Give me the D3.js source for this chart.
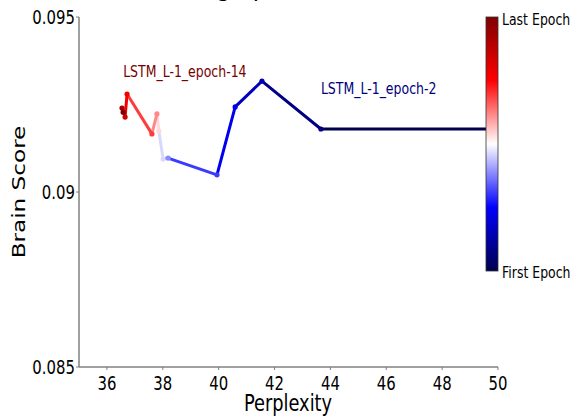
<!DOCTYPE html>
<html><head><meta charset="utf-8">
<script src="https://cdn.jsdelivr.net/npm/d3@7"></script>
<style>body{margin:0;background:#fff}svg{display:block}</style>
</head><body>
<script>
// Data (epoch 1 .. 14)
const epochs = [1,2,3,4,5,6,7,8,9,10,11,12,13,14];
const perplexity = [55.0,43.66,41.55,40.59,39.94,38.19,38.01,37.86,37.79,37.61,36.72,36.65,36.54,36.58];
const brainScore = [0.0918,0.0918,0.09317,0.09243,0.09049,0.09097,0.09094,0.09174,0.09223,0.09166,0.0928,0.09214,0.0924,0.09228];
const xTicks = [36,38,40,42,44,46,48,50];
const yTicks = [0.085,0.09,0.095];
const yTickLabels = ["0.085","0.09","0.095"];
const annotations = [{i:1,text:"LSTM_L-1_epoch-2"},{i:13,text:"LSTM_L-1_epoch-14"}];

const W=570,H=417, SY=1.3, FONT="DejaVu Sans";
const svg=d3.select("body").append("svg").attr("width",W).attr("height",H);
const L=79,R=498,T=17,B=367;
const x=d3.scaleLinear().domain([35,50]).range([L,R]);
const y=d3.scaleLinear().domain([0.085,0.095]).range([B,T]);

// seismic colormap
const seismic=d3.scaleLinear().domain([0,0.25,0.5,0.75,1])
  .range(["rgb(0,0,77)","rgb(0,0,255)","rgb(255,255,255)","rgb(255,0,0)","rgb(128,0,0)"]);
const col=d3.scaleLinear().domain([epochs[0],epochs[epochs.length-1]]).range([0,1]);
const cOf=i=>seismic(col(epochs[i]));

function txt(g,xp,yp,s,size,opts={}){
  const t=g.append("text").attr("transform",`translate(${xp},${yp}) scale(1,${SY})${opts.rot?" rotate(-90)":""}`)
    .attr("font-family",FONT).attr("font-size",size).attr("fill",opts.fill||"#000")
    .attr("text-anchor",opts.anchor||"start").text(s);
  if(opts.db) t.attr("dominant-baseline",opts.db);
  return t;
}

// title (mostly cut off at the top edge, as in the reference)
txt(svg,407,-5,"Brain Score over training epochs (LSTM)",23,{anchor:"end"});

// clip
svg.append("defs").append("clipPath").attr("id","clip").append("rect")
  .attr("x",L).attr("y",T-5).attr("width",R-L).attr("height",B-T+5);

const plot=svg.append("g").attr("clip-path","url(#clip)");
for(let i=0;i<epochs.length-1;i++){
  plot.append("line").attr("x1",x(perplexity[i])).attr("y1",y(brainScore[i]))
    .attr("x2",x(perplexity[i+1])).attr("y2",y(brainScore[i+1]))
    .attr("stroke",cOf(i)).attr("stroke-width",3).attr("stroke-linecap","round");
}
for(let i=0;i<epochs.length;i++){
  plot.append("circle").attr("cx",x(perplexity[i])).attr("cy",y(brainScore[i]))
    .attr("r",2.6).attr("fill",cOf(i));
}
annotations.forEach(a=>{
  txt(svg,x(perplexity[a.i]),y(brainScore[a.i])-35,a.text,12.5,{fill:d3.color(cOf(a.i)).darker(0.2)});
});

// axes
const ax=svg.append("g");
ax.append("line").attr("x1",L).attr("x2",L).attr("y1",T).attr("y2",B).attr("stroke","#808080").attr("stroke-width",1.5);
ax.append("line").attr("x1",L).attr("x2",R).attr("y1",B).attr("y2",B).attr("stroke","#808080").attr("stroke-width",1.5);
yTicks.forEach((v,k)=>{
  ax.append("line").attr("x1",L-3).attr("x2",L).attr("y1",y(v)).attr("y2",y(v)).attr("stroke","#808080");
  txt(ax,L-4,y(v),yTickLabels[k],14.9,{anchor:"end",db:"central"});
});
xTicks.forEach(v=>{
  ax.append("line").attr("x1",x(v)).attr("x2",x(v)).attr("y1",B).attr("y2",B+3).attr("stroke","#808080");
  txt(ax,x(v),390,String(v),14.9,{anchor:"middle"});
});
txt(ax,288,411,"Perplexity",17.8,{anchor:"middle"});
txt(ax,25,192,"Brain Score",17.8,{anchor:"middle",rot:true});

// colorbar
const cbL=486,cbR=498,cbT=17,cbB=271;
const grad=svg.select("defs").append("linearGradient").attr("id","cb").attr("x1",0).attr("y1",1).attr("x2",0).attr("y2",0);
d3.range(0,1.0001,0.05).forEach(t=>grad.append("stop").attr("offset",t).attr("stop-color",seismic(t)));
svg.append("rect").attr("x",cbL).attr("y",cbT).attr("width",cbR-cbL).attr("height",cbB-cbT)
  .attr("fill","url(#cb)").attr("stroke","#333").attr("stroke-width",0.8);
txt(svg,cbR+4,cbT+2,"Last Epoch",12.5,{db:"central"});
txt(svg,cbR+4,cbB+1,"First Epoch",12.5,{db:"central"});
</script>
</body></html>
